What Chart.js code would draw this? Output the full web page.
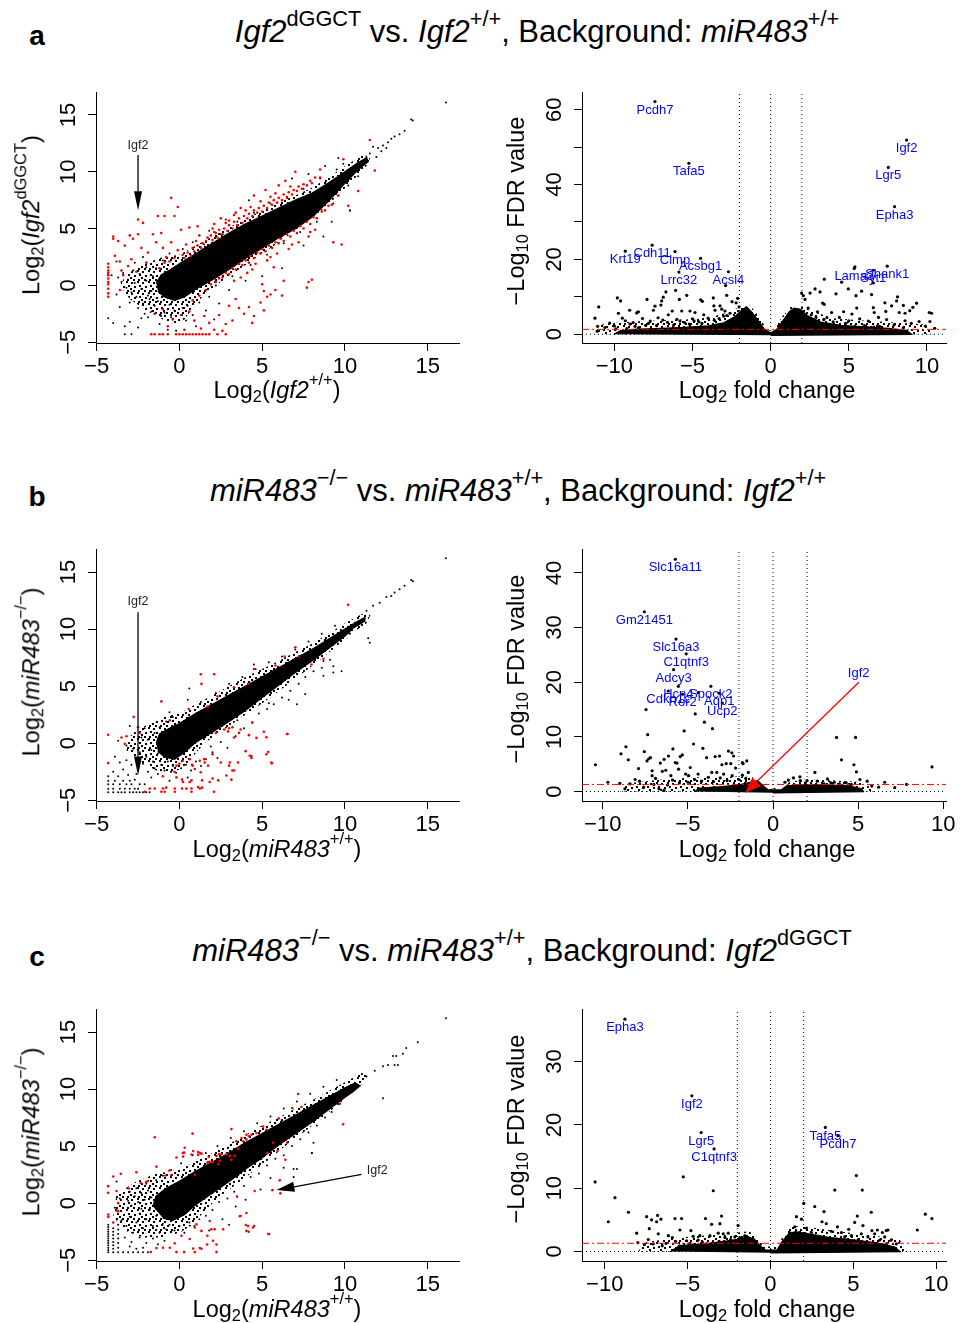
<!DOCTYPE html>
<html>
<head>
<meta charset="utf-8">
<script src="https://cdn.jsdelivr.net/npm/chart.js@4.4.1/dist/chart.umd.min.js"></script>
<style>
  body { margin: 0; background: #fff; }
  #fig { position: relative; width: 962px; height: 1323px; overflow: hidden;
         font-family: "Liberation Sans", Arial, Helvetica, sans-serif; color: #000; }
  canvas { position: absolute; }
  .t { position: absolute; white-space: nowrap; line-height: 1; transform: translateX(-50%); }
  .ttl { font-size: 31px; }
  .ax { font-size: 23.5px; }
  .rot { transform: translate(-50%, -50%) rotate(-90deg); }
  .lt { font-size: 28px; font-weight: bold; }
  .up { position: relative; top: -0.72em; font-size: 0.7em; }
  .ups { position: relative; top: -0.8em; font-size: 0.7em; }
  .dn { position: relative; top: 0.25em; font-size: 0.7em; }
</style>
</head>
<body>
<div id="fig">
  <canvas id="sa"></canvas><canvas id="va"></canvas>
  <canvas id="sb"></canvas><canvas id="vb"></canvas>
  <canvas id="sc"></canvas><canvas id="vc"></canvas>

  <div class="t lt" style="left:37px;top:22px">a</div>
  <div class="t ttl" style="left:537px;top:15.5px"><i>Igf2</i><span class="up">dGGCT</span> vs. <i>Igf2</i><span class="up">+/+</span>, Background: <i>miR483</i><span class="up">+/+</span></div>
  <div class="t lt" style="left:37px;top:483px">b</div>
  <div class="t ttl" style="left:518px;top:474.5px"><i>miR483</i><span class="up">−/−</span> vs. <i>miR483</i><span class="up">+/+</span>, Background: <i>Igf2</i><span class="up">+/+</span></div>
  <div class="t lt" style="left:37px;top:943.3px">c</div>
  <div class="t ttl" style="left:522px;top:934.5px"><i>miR483</i><span class="up">−/−</span> vs. <i>miR483</i><span class="up">+/+</span>, Background: <i>Igf2</i><span class="up">dGGCT</span></div>

  <div class="t ax" style="left:277px;top:379px">Log<span class="dn">2</span>(<i>Igf2</i><span class="ups">+/+</span>)</div>
  <div class="t ax rot" style="left:32px;top:214.5px">Log<span class="dn">2</span>(<i>Igf2</i><span class="ups">dGGCT</span>)</div>
  <div class="t ax" style="left:767px;top:379px">Log<span class="dn">2</span> fold change</div>
  <div class="t ax rot" style="left:517px;top:211px">−Log<span class="dn">10</span> FDR value</div>

  <div class="t ax" style="left:277px;top:837.7px">Log<span class="dn">2</span>(<i>miR483</i><span class="ups">+/+</span>)</div>
  <div class="t ax rot" style="left:32px;top:672px">Log<span class="dn">2</span>(<i>miR483</i><span class="ups">−/−</span>)</div>
  <div class="t ax" style="left:767px;top:837.7px">Log<span class="dn">2</span> fold change</div>
  <div class="t ax rot" style="left:517px;top:668.5px">−Log<span class="dn">10</span> FDR value</div>

  <div class="t ax" style="left:277px;top:1297.7px">Log<span class="dn">2</span>(<i>miR483</i><span class="ups">+/+</span>)</div>
  <div class="t ax rot" style="left:32px;top:1132px">Log<span class="dn">2</span>(<i>miR483</i><span class="ups">−/−</span>)</div>
  <div class="t ax" style="left:767px;top:1297.7px">Log<span class="dn">2</span> fold change</div>
  <div class="t ax rot" style="left:517px;top:1128.5px">−Log<span class="dn">10</span> FDR value</div>
</div>

<script>
"use strict";

/* ---------- tick labels ---------- */
const scTicks = [-5, 0, 5, 10, 15];
const vxTicks = [-10, -5, 0, 5, 10];
const vaYTicks = [0, 10, 20, 30, 40, 50, 60];
const vbYTicks = [0, 10, 20, 30, 40];
const vcYTicks = [0, 10, 20, 30];

/* ---------- cut-offs ---------- */
const fcCuts = [-2, 0, 2];
const fdrCut = 1.3;

/* ---------- panel a, scatter ---------- */
const aCore = [[-1.4,0.2],[-1.1,0.9],[-0.5,1.4],[0,1.9],[1,2.8],[2,3.7],[3,4.6],[4,5.4],[5,6.1],[6,6.8],[7,7.5],[8,8.1],[9,9.0],[10,10.0],[10.8,10.8],[11.3,11.2],[11.4,10.9],[10.8,10.2],[10,9.0],[9,7.4],[8,6.0],[7,5.0],[6,4.2],[5,3.3],[4,2.4],[3,1.4],[2,0.5],[1,-0.3],[0.3,-1.0],[-0.3,-1.3],[-0.9,-1.0],[-1.3,-0.5]];
const aHalo = [[-3.2,1.0],[-2.2,1.8],[-1.2,2.4],[0,2.7],[1,3.5],[2,4.3],[3,5.1],[4,5.9],[5,6.6],[6,7.3],[7,7.9],[8,8.6],[9,9.5],[10,10.5],[11,11.4],[11.6,11.4],[11.3,10.5],[10.5,9.3],[9.5,7.8],[8.5,6.5],[7.5,5.4],[6.5,4.3],[5.5,3.3],[4.5,2.3],[3.5,1.3],[2.5,0.3],[1.5,-0.8],[0.8,-2.0],[0.3,-3.0],[-0.3,-3.4],[-1.0,-3.0],[-2.0,-2.2],[-3.0,-1.2],[-3.6,0.0]];
const aBlack = [[-4.3,-2.9],[-4.0,-3.3],[-3.3,-3.6],[-3.0,-3.2],[-2.9,-4.3],[-3.3,-4.3],[-2.5,-3.7],[-2.3,-2.9],[-2.1,-2.5],[-1.9,-2.8],[-1.7,-2.3],[-1.5,-1.8],[-1.1,-2.7],[-0.9,-2.4],[-0.5,-2.8],[-0.3,-2.2],[-0.6,-1.7],[-1.3,-1.4],[-1.8,-1.2],[-2.2,-1.6],[-2.6,-1.0],[-2.9,-0.6],[-3.2,-0.2],[-3.5,0.3],[-3.1,0.5],[-2.7,0.2],[-2.3,-0.3],[-2.0,0.4],[-1.7,-0.5],[-1.6,0.8],[-2.4,1.0],[-2.8,1.3],[-3.4,1.1],[-3.7,0.7],[-2.0,1.6],[-1.4,1.5],[-1.9,-0.9],[-2.5,-2.0],[-3.0,-1.5],[-3.6,-1.9],[-3.8,-0.8],[-4.1,0.9],[-3.8,2.1],[-1.2,-3.4],[-0.7,-3.9],[0.2,-2.0],[0.5,-1.8],[0.8,-2.6],[1.2,-1.5],[1.6,-2.2],[0.4,-3.1],[1.0,-3.6],[-0.2,-4.0],[2.1,-3.0],[2.4,-1.6],[1.8,-1.0],[-2.7,2.0],[-2.2,2.5],[-1.0,2.2],[-0.6,2.8],[0.2,3.2],[1.5,3.6],[2.5,4.5],[3.5,5.6],[4.5,6.4],[5.5,7.2],[6.5,7.8],[7.5,8.5],[8.5,9.4],[9.5,10.2],[2.2,0.0],[3.2,0.8],[4.3,1.8],[5.3,2.7],[6.3,3.7],[7.3,4.7],[8.3,5.6],[9.3,7.2],[10.2,8.8],[10.8,9.6],[9.9,10.7],[5.0,0.8],[6.2,1.5],[3.0,-0.4],[4.0,0.4],[7.5,3.5],[8.7,4.3],[9.2,5.6],[10.3,6.6],[6.8,9.4],[7.8,9.8],[4.2,7.5],[2.8,5.8],[1.8,4.8],[0.8,3.8],[8.8,10.5],[9.6,11.2],[11.3,11.3],[11.5,11.6],[12.0,12.1],[12.3,12.3],[12.6,12.6],[12.8,12.9],[13.0,13.1],[13.3,13.3],[13.6,13.6],[14.1,14.5],[14.0,14.6],[11.9,11.3],[12.2,11.8],[11.3,11.1],[10.9,10.6],[10.7,10.3],[11.7,12.2],[12.5,12.1],[16.1,16.1],[10.3,6.6]];
const aRed = [[-4.3,1.9],[-4.3,1.6],[-4.3,1.3],[-4.3,1.1],[-4.3,0.9],[-4.3,0.6],[-4.3,0.3],[-4.3,0.1],[-4.3,-0.3],[-4.3,-0.7],[-4.3,-1.0],[-4.0,4.3],[-4.0,4.1],[-3.9,2.6],[-3.7,3.9],[-3.6,2.1],[-3.5,1.3],[-3.4,0.9],[-3.6,-0.4],[-3.0,4.4],[-2.8,4.1],[-2.5,4.5],[-2.5,5.8],[-2.2,5.5],[-1.3,6.1],[-0.9,6.1],[-0.3,6.1],[-0.1,6.9],[-0.5,7.7],[-1.6,4.5],[-1.1,4.6],[-0.5,3.8],[0.1,4.9],[0.6,5.1],[1.1,5.2],[2.1,5.4],[2.5,5.9],[3.3,6.2],[-3.3,3.5],[-2.3,3.3],[-1.9,2.9],[-1.4,3.8],[-1.0,3.3],[-0.8,2.5],[-2.9,2.3],[-3.1,1.7],[-2.6,1.2],[-2.0,2.0],[-0.1,3.1],[0.4,3.6],[0.3,2.4],[0.7,2.6],[0.9,3.0],[1.3,3.3],[1.6,3.9],[2.0,4.0],[2.3,4.2],[2.6,4.5],[2.9,4.8],[3.2,5.0],[3.5,5.3],[3.8,5.5],[4.1,5.9],[4.4,6.1],[4.7,6.4],[5.0,6.5],[5.3,6.8],[5.6,7.1],[5.9,7.3],[6.2,7.5],[6.5,7.7],[6.8,8.0],[7.1,8.3],[7.4,8.5],[7.7,8.8],[8.0,9.0],[8.5,9.5],[4.0,6.6],[4.9,7.4],[5.8,8.1],[6.4,9.2],[7.0,10.0],[8.5,10.2],[9.9,11.1],[11.5,12.8],[3.0,5.7],[3.7,6.8],[2.0,5.0],[1.2,4.4],[5.2,8.4],[6.0,8.8],[4.5,7.9],[0.5,2.9],[0.8,3.3],[1.1,3.5],[1.4,3.7],[1.7,4.2],[1.9,4.4],[2.2,4.6],[2.4,4.9],[2.7,5.0],[3.0,5.3],[3.3,5.6],[3.6,5.9],[3.9,6.1],[4.2,6.3],[4.5,6.6],[4.8,6.8],[5.1,7.0],[5.4,7.3],[5.7,7.5],[6.0,7.7],[6.3,8.0],[6.6,8.2],[6.9,8.4],[7.2,8.7],[7.5,8.9],[7.9,9.2],[8.2,9.5],[1.0,3.9],[2.8,5.5],[4.3,6.9],[5.5,7.8],[6.7,8.7],[3.4,6.4],[2.1,4.7],[0.2,2.7],[-0.3,2.4],[-0.6,2.1],[-0.9,2.0],[-1.2,1.5],[2.4,0.6],[2.8,1.1],[3.2,1.5],[3.6,1.9],[4.0,2.2],[4.3,2.6],[4.7,2.9],[5.0,3.2],[5.4,3.5],[5.8,3.8],[6.1,4.1],[6.5,4.5],[6.9,4.8],[7.3,5.2],[7.7,5.6],[8.1,6.0],[8.6,6.5],[9.0,7.0],[9.6,7.9],[10.2,7.0],[10.8,8.3],[11.8,10.1],[4.1,1.1],[4.6,1.9],[5.3,2.2],[5.9,2.8],[6.6,3.2],[7.2,3.8],[7.8,4.3],[8.2,4.9],[3.7,0.7],[5.7,1.6],[2.2,0.3],[2.6,0.7],[3.0,1.0],[3.4,1.4],[3.8,1.8],[4.2,2.0],[4.5,2.4],[4.9,2.8],[5.2,3.0],[5.6,3.3],[6.0,3.7],[6.3,3.9],[6.7,4.3],[7.1,4.6],[7.5,5.0],[7.9,5.4],[8.3,5.9],[8.8,6.6],[9.2,7.1],[3.3,0.4],[4.4,1.4],[5.5,2.5],[6.8,3.6],[7.9,4.7],[1.6,-0.4],[1.9,0.1],[1.2,-0.9],[0.8,-1.3],[5.0,0.1],[5.1,-0.5],[5.3,-1.0],[5.5,-0.8],[5.8,-0.4],[6.3,0.4],[6.2,-0.9],[7.8,0.3],[8.0,0.5],[7.7,-0.2],[9.3,3.8],[9.8,3.6],[5.1,-2.2],[4.9,-1.5],[4.5,-2.7],[4.2,-1.9],[3.4,-1.2],[3.6,-2.0],[3.2,-3.1],[2.4,-2.6],[2.8,-3.4],[1.8,-3.3],[1.5,-2.7],[2.1,-3.9],[0.9,-3.1],[0.6,-2.3],[0.1,-2.6],[-0.4,-3.0],[-1.0,-2.1],[-1.5,-2.5],[-0.7,-3.6],[0.3,-3.9],[1.3,-3.8],[2.6,-4.0],[3.0,-1.8],[3.9,-2.5],[4.4,-3.3],[-1.7,-4.3],[-1.5,-4.3],[-1.2,-4.3],[-1.0,-4.3],[-0.7,-4.3],[-0.2,-4.3],[0.0,-4.3],[0.2,-4.3],[0.4,-4.3],[0.6,-4.3],[0.8,-4.3],[1.0,-4.3],[1.2,-4.3],[1.4,-4.3],[1.6,-4.3],[1.8,-4.3],[2.3,-4.3],[2.8,-4.3]];

/* ---------- panel b, scatter ---------- */
const bCore = [[-1.4,0.0],[-1.2,0.8],[-0.6,1.3],[0,1.7],[1,2.6],[2,3.4],[3,4.2],[4,5.0],[5,5.8],[6,6.6],[7,7.4],[8,8.2],[9,9.1],[10,10.0],[10.8,10.7],[11.2,11.0],[11.2,10.7],[10.5,10.1],[10,9.4],[9,8.3],[8,7.2],[7,6.2],[6,5.1],[5,4.0],[4,2.9],[3,1.9],[2,1.0],[1,0.1],[0.3,-0.8],[-0.3,-1.4],[-0.9,-1.2],[-1.3,-0.7]];
const bHalo = [[-3.0,0.6],[-2.0,1.6],[-1.0,2.3],[0,2.6],[1,3.4],[2,4.2],[3,5.0],[4,5.8],[5,6.5],[6,7.2],[7,8.0],[8,8.7],[9,9.6],[10,10.5],[11,11.3],[11.6,11.4],[11.3,10.5],[10.5,9.7],[9.5,8.5],[8.5,7.3],[7.5,6.2],[6.5,5.1],[5.5,4.0],[4.5,3.0],[3.5,2.0],[2.5,1.0],[1.5,0.0],[0.8,-1.2],[0.2,-2.2],[-0.5,-2.6],[-1.4,-2.4],[-2.4,-1.6],[-3.2,-0.6]];
const bBlack = [[-4.3,-4.3],[-4.0,-4.3],[-3.7,-4.3],[-3.5,-4.3],[-3.3,-4.3],[-3.0,-4.3],[-2.8,-4.3],[-2.6,-4.3],[-2.4,-4.3],[-2.2,-4.3],[-2.0,-4.3],[-1.8,-4.3],[-4.3,-4.0],[-4.0,-4.0],[-3.6,-4.0],[-3.3,-4.0],[-3.0,-4.0],[-2.7,-4.0],[-2.5,-4.0],[-4.3,-3.6],[-4.0,-3.6],[-3.6,-3.6],[-3.2,-3.6],[-2.9,-3.6],[-2.4,-3.6],[-2.1,-3.6],[-4.3,-3.3],[-3.9,-3.3],[-3.4,-3.3],[-3.0,-3.3],[-2.7,-3.2],[-4.3,-2.9],[-3.7,-2.9],[-3.1,-2.8],[-2.6,-2.7],[-4.0,-2.5],[-3.4,-2.3],[-3.6,-1.7],[-3.2,-1.5],[-2.9,-1.9],[-2.5,-2.2],[-2.2,-1.8],[-1.9,-2.5],[-1.7,-3.0],[-1.5,-2.2],[-1.3,-2.7],[-1.1,-1.9],[-0.9,-2.4],[-0.7,-1.6],[-0.4,-2.0],[-0.2,-2.6],[0.1,-2.2],[0.4,-1.9],[0.7,-2.4],[1.0,-1.6],[1.3,-2.0],[1.6,-1.4],[-2.0,-1.2],[-2.4,-0.8],[-2.8,-0.5],[-3.2,-0.2],[-3.7,0.2],[-1.7,-0.6],[-1.9,0.3],[-2.3,0.5],[-2.7,0.9],[-1.5,0.9],[-2.1,1.3],[-1.2,1.4],[-0.8,1.9],[-0.4,2.3],[-3.0,1.5],[-2.6,-1.3],[-1.3,-0.9],[-1.6,-1.6],[-3.9,-1.2],[-0.6,-3.3],[0.5,-3.0],[2.0,-0.8],[2.5,0.1],[2.9,-0.4],[3.4,0.6],[3.9,1.3],[4.4,1.8],[4.8,2.6],[5.3,3.0],[5.7,3.4],[6.2,4.0],[6.7,4.6],[7.2,5.2],[7.6,5.8],[8.1,6.3],[8.6,6.6],[9.1,7.3],[0.5,3.8],[1.3,3.6],[2.2,4.4],[3.0,5.2],[3.8,5.8],[4.6,6.5],[5.4,7.1],[6.2,7.6],[7.0,8.2],[7.8,8.9],[8.6,9.6],[9.4,10.3],[0.6,4.8],[-0.6,2.7],[5.4,3.5],[6.6,3.8],[7.1,3.4],[8.7,5.9],[7.6,4.3],[4.5,6.9],[1.8,2.2],[3.5,2.0],[1.9,-0.3],[2.3,-1.3],[0.6,0.3],[11.3,11.6],[11.7,12.05],[12.1,12.3],[12.5,12.8],[12.8,12.9],[13.0,13.2],[13.3,13.5],[13.6,13.8],[14.1,14.2],[14.0,14.3],[16.1,16.2],[11.5,8.8],[11.4,9.2],[10.3,9.6],[9.8,6.3],[9.3,6.75],[9.3,6.2],[8.7,7.2]];
const bRed = [[-4.31,0.74],[-4.31,-1.75],[-3.5,0.5],[-3.3,-0.06],[-3.2,0.6],[-2.76,2.3],[-2.4,0.9],[-2.5,1.4],[-1.09,3.66],[-0.58,2.0],[0.56,3.0],[1.33,5.2],[1.29,6.04],[2.1,6.04],[4.15,5.2],[4.5,6.5],[5.8,6.8],[6.36,7.6],[7.0,8.4],[7.2,7.6],[7.98,6.9],[8.7,7.4],[10.19,12.13],[1.7,3.2],[2.3,4.1],[3.3,4.9],[2.7,1.2],[2.2,0.9],[3.0,1.3],[3.3,0.5],[3.6,0.9],[4.4,1.8],[4.65,0.46],[5.1,1.0],[5.26,-0.97],[6.5,0.8],[5.58,-1.77],[4.25,-1.1],[4.35,-1.3],[3.04,-1.69],[3.3,-2.4],[2.5,-1.69],[2.0,-0.97],[1.5,-1.4],[0.8,-1.97],[2.94,1.03],[3.2,1.4],[3.7,1.2],[4.2,0.7],[5.26,0.52],[5.36,-0.77],[4.35,-1.12],[4.0,-0.7],[3.54,-1.69],[3.2,-2.4],[3.0,-1.97],[5.56,-1.69],[6.53,0.8],[-0.18,-1.97],[0.0,-1.8],[0.2,-1.55],[0.62,-1.4],[0.76,-1.9],[0.93,-2.26],[1.23,-1.55],[1.29,-2.55],[1.53,-1.69],[1.73,-1.97],[-0.18,-3.0],[0.16,-3.2],[0.22,-3.4],[0.62,-3.4],[0.73,-3.26],[1.13,-3.85],[1.37,-3.26],[1.83,-3.4],[2.0,-3.1],[2.34,-3.26],[2.84,-2.83],[3.14,-3.2],[-1.79,-3.98],[-1.49,-3.98],[-0.99,-3.98],[-0.8,-3.9],[-0.28,-3.98],[0.16,-3.98],[0.42,-3.98],[0.73,-3.98],[1.23,-3.98],[1.37,-3.9],[-2.09,-4.26],[-1.09,-4.26],[-0.89,-4.26],[-0.28,-4.26],[0.73,-4.26],[2.09,-4.26],[-0.3,-2.5],[-1.0,-2.9]];

/* ---------- panel c, scatter ---------- */
const cCore = [[-1.6,-0.3],[-1.4,0.6],[-0.8,1.3],[0,1.9],[1,2.8],[2,3.6],[3,4.4],[4,5.3],[5,6.1],[6,6.9],[7,7.7],[8,8.5],[9,9.3],[10,10.1],[10.6,10.5],[10.9,10.3],[10.5,9.8],[10,9.3],[9,8.2],[8,7.1],[7,6.1],[6,5.1],[5,4.0],[4,3.0],[3,1.9],[2,0.9],[1,-0.1],[0.3,-1.0],[-0.4,-1.5],[-1.0,-1.3]];
const cHalo = [[-3.8,0.8],[-2.6,1.9],[-1.4,2.6],[0,2.9],[1,3.7],[2,4.4],[3,5.2],[4,6.0],[5,6.8],[6,7.5],[7,8.3],[8,9.0],[9,9.8],[10,10.6],[11,11.4],[11.4,11.2],[11.0,10.4],[10.3,9.5],[9.3,8.3],[8.3,7.1],[7.3,6.0],[6.3,4.9],[5.3,3.7],[4.3,2.6],[3.3,1.5],[2.3,0.4],[1.5,-0.7],[0.8,-1.9],[0.0,-2.6],[-1.0,-3.0],[-2.2,-3.0],[-3.3,-2.4],[-4.0,-1.2]];
const cBlack = [[-4.3,-4.3],[-4.3,-4.1],[-4.3,-3.9],[-4.3,-3.7],[-4.3,-3.5],[-4.3,-3.3],[-4.3,-3.1],[-4.3,-2.9],[-4.3,-2.7],[-4.3,-2.5],[-4.3,-2.3],[-4.3,-2.1],[-4.3,-1.9],[-4.0,-4.3],[-4.0,-4.0],[-4.0,-3.7],[-4.0,-3.4],[-4.0,-3.1],[-4.0,-2.8],[-4.0,-2.5],[-4.0,-2.2],[-3.7,-4.3],[-3.7,-3.9],[-3.7,-3.5],[-3.7,-3.1],[-3.7,-2.7],[-3.7,-2.3],[-3.7,-1.9],[-3.4,-4.3],[-3.1,-4.3],[-2.8,-4.3],[-2.5,-4.3],[-2.2,-4.3],[-1.9,-4.3],[-3.5,-1.5],[-3.2,-2.0],[-3.0,-1.2],[-2.8,-2.6],[-2.6,-1.7],[-2.4,-0.9],[-2.2,-2.2],[-2.0,-1.4],[-1.8,-0.6],[-1.6,-2.0],[-1.4,-1.1],[-1.2,-2.6],[-1.0,-1.8],[-0.8,-2.3],[-0.6,-1.9],[-0.3,-2.4],[0.0,-2.0],[0.3,-2.6],[0.6,-1.7],[0.9,-2.0],[1.2,-1.4],[1.6,-1.1],[2.0,-0.6],[-3.4,-0.4],[-3.1,0.2],[-2.9,-0.2],[-2.7,0.6],[-2.5,0.1],[-2.3,0.9],[-2.1,0.3],[-1.9,1.1],[-1.7,0.5],[-2.0,1.7],[-2.6,1.3],[-3.0,1.0],[-3.6,0.4],[-3.9,-0.4],[-3.3,-3.0],[-2.9,-3.4],[-2.4,-3.0],[-2.0,-3.5],[-1.6,-3.1],[-1.3,-3.6],[-0.9,-3.3],[-2.6,-4.0],[-2.2,-3.9],[-3.0,-3.8],[-1.4,2.0],[-1.0,2.4],[-0.5,2.9],[0.1,3.5],[-3.8,1.9],[-1.1,-0.4],[-2.3,-0.5],[2.4,0.1],[2.9,0.4],[3.3,1.0],[3.9,1.5],[4.3,2.3],[4.8,2.6],[5.3,3.3],[5.8,3.9],[6.3,4.2],[6.8,5.0],[7.3,5.6],[7.8,6.2],[8.3,6.8],[8.8,7.5],[9.2,8.0],[0.8,4.2],[1.6,4.4],[2.3,5.0],[3.1,5.7],[3.9,6.3],[4.7,7.0],[5.5,7.6],[6.3,8.3],[7.1,8.9],[7.9,9.6],[8.7,10.2],[9.5,10.8],[2.6,-1.4],[3.4,-0.3],[4.0,0.3],[4.9,1.2],[5.5,2.2],[6.3,3.1],[7.1,3.0],[8.0,4.4],[6.9,2.3],[8.1,5.3],[3.0,-1.9],[1.8,-2.4],[3.7,-1.1],[11.3,11.1],[11.8,11.6],[12.3,12.0],[12.6,12.1],[12.9,12.9],[13.1,12.9],[13.2,12.1],[13.0,12.1],[13.5,13.1],[13.7,13.6],[14.4,14.1],[16.1,16.2],[12.3,9.2],[10.7,10.4],[9.6,8.7],[8.0,4.4],[6.9,3.0]];
const cRed = [[-1.49,5.77],[0.79,6.09],[0.32,4.86],[0.2,4.4],[1.13,4.49],[1.25,4.4],[2.24,4.14],[2.4,4.3],[3.14,6.49],[2.34,3.43],[2.0,3.6],[1.7,3.55],[3.44,5.43],[4.05,6.0],[4.65,6.14],[5.26,6.43],[5.06,6.71],[6.0,7.43],[6.81,8.34],[7.17,9.57],[7.37,8.43],[9.69,8.71],[9.89,6.91],[6.5,5.29],[6.4,3.8],[5.66,5.29],[5.92,4.57],[5.3,4.4],[5.62,1.14],[6.1,0.86],[6.06,2.0],[4.55,1.06],[3.48,0.57],[4.05,-0.86],[4.01,-1.91],[4.51,-2.0],[4.19,-2.51],[5.42,-2.71],[-4.31,1.49],[-4.31,0.91],[-4.0,2.34],[-3.8,1.06],[-3.54,2.57],[-3.06,1.29],[-2.6,2.71],[-2.33,1.77],[-2.0,1.86],[-1.9,1.94],[-1.39,3.2],[-0.85,2.43],[-0.6,2.86],[-0.5,2.43],[-0.18,4.0],[0.22,4.09],[0.28,4.43],[0.73,4.26],[0.83,4.57],[1.13,4.23],[1.33,4.34],[1.77,4.06],[1.83,3.63],[2.43,3.71],[2.53,4.29],[2.84,4.29],[3.04,4.14],[3.14,3.8],[3.34,4.14],[3.55,4.77],[3.85,5.43],[4.05,5.57],[4.2,5.86],[4.35,6.0],[3.75,5.71],[0.93,2.49],[-3.7,0.0],[-3.8,-0.66],[-4.3,-1.0],[-4.3,-1.2],[-3.7,-0.7],[-4.0,-1.7],[0.93,-2.14],[1.03,-1.86],[1.33,-2.43],[1.83,-1.57],[1.93,-2.29],[2.13,-2.29],[2.64,-2.29],[1.69,-2.86],[2.03,-3.29],[2.24,-3.63],[0.62,-3.14],[0.12,-2.86],[-0.28,-3.51],[-0.58,-3.91],[-0.99,-3.91],[-1.39,-3.94],[-1.73,-4.29],[-0.18,-4.29],[0.28,-4.29],[0.83,-3.97],[0.93,-4.29],[1.23,-3.94],[1.33,-4.0],[1.67,-3.63],[2.24,-4.29],[4.15,-2.0],[4.45,-2.14],[4.05,-2.43],[5.36,-2.71],[3.65,-1.14]];

/* ---------- panel a, volcano ---------- */
const vaCore = [[-10,0],[-9.6,0.9],[-8.5,1.3],[-7,1.5],[-5.5,1.8],[-4,2.2],[-3,3.0],[-2.3,4.6],[-1.8,6.6],[-1.55,7.3],[-1.2,5.8],[-0.8,3.6],[-0.4,1.3],[0,0.3],[0.4,1.3],[0.8,3.6],[1.2,6.0],[1.5,6.9],[1.9,6.6],[2.4,4.8],[3.2,3.2],[4.5,2.3],[6,1.9],[7.5,1.5],[8.7,1.0],[9,0],[0,-0.3]];
const vaHalo = [[-11.2,0],[-11,2.5],[-9.5,3.2],[-8,3.5],[-6.5,3.8],[-5,4.0],[-3.8,4.6],[-2.6,6.0],[-1.8,7.8],[-1.3,7.6],[-0.7,4.5],[-0.2,1.0],[0.2,1.0],[0.7,4.5],[1.3,7.4],[2.0,7.6],[2.8,6.0],[4,4.3],[5.5,3.8],[7,3.4],[8.5,3.0],[10,2.6],[10.5,0]];
const vaPts = [[-11.24,4.3],[-11.0,7.3],[-11.07,2.1],[-9.81,9.7],[-9.6,8.9],[-9.74,5.6],[-9.49,4.3],[-9.3,3.6],[-9.02,6.4],[-8.57,5.7],[-8.46,6.0],[-9.0,2.7],[-8.68,2.1],[-8.46,1.7],[-7.82,2.9],[-7.91,9.3],[-7.5,6.4],[-7.4,7.5],[-6.97,8.9],[-6.87,9.9],[-6.7,11.3],[-7.02,7.8],[-6.55,5.2],[-6.3,6.2],[-6.08,11.7],[-5.84,9.3],[-5.69,6.2],[-5.37,10.4],[-5.16,6.2],[-4.84,5.8],[-4.48,9.2],[-4.37,8.8],[-4.28,5.2],[-3.67,9.7],[-3.63,7.6],[-3.56,6.4],[-3.24,7.6],[-3.13,6.7],[-2.92,6.2],[-2.81,10.4],[-2.88,13.0],[-2.47,8.7],[-2.21,8.4],[-2.11,9.6],[-2.02,7.3],[-1.75,5.6],[-10.3,3.0],[-10.6,1.8],[-8.2,4.2],[-7.7,3.5],[-7.2,4.4],[-6.6,3.2],[-6.0,4.0],[-5.5,3.1],[-5.0,4.1],[-4.6,3.3],[-4.0,4.3],[-3.6,3.7],[-3.0,4.8],[-2.6,5.6],[-10.0,2.2],[-9.2,1.5],[-8.0,2.4],[-7.3,2.3],[-6.2,2.5],[-5.2,2.7],[-4.4,2.9],[-3.3,4.2],[-2.8,5.0],[-6.9,3.8],[-5.8,3.5],[-4.9,3.6],[-8.8,3.1],[-9.9,1.4],[-11.1,0.8],[1.98,11.0],[2.09,10.3],[2.2,9.3],[2.52,11.0],[2.84,12.1],[3.16,11.3],[3.33,8.3],[3.43,8.0],[3.43,14.7],[3.9,5.8],[4.18,10.8],[4.54,13.9],[4.97,12.1],[4.67,6.0],[5.2,5.4],[5.39,18.0],[5.46,10.3],[5.51,7.0],[5.82,11.5],[6.25,3.5],[6.46,10.6],[6.57,13.7],[6.57,7.1],[6.63,5.8],[6.9,4.5],[6.97,2.1],[7.31,8.4],[7.37,6.1],[7.42,3.9],[7.74,7.6],[8.06,8.9],[8.12,10.0],[8.23,5.8],[8.49,7.7],[8.6,5.6],[8.9,6.3],[9.1,7.2],[9.34,8.3],[9.5,3.4],[10.15,5.8],[10.3,5.6],[10.19,3.4],[6.0,2.3],[6.2,1.7],[6.6,1.9],[8.49,1.7],[8.6,3.6],[2.6,5.2],[3.0,6.0],[2.4,7.0],[3.6,4.4],[4.0,3.3],[4.4,4.5],[5.0,3.6],[5.7,4.1],[7.9,2.5],[9.0,2.9],[9.9,2.2],[10.5,1.6],[4.8,2.9],[3.4,3.9],[2.9,4.5]];
const vaGenes = ["Pcdh7","Tafa5","Igf2","Lgr5","Epha3","Cdh11","Krt19","Clmp","Acsbg1","Lrrc32","Acsl4","Lama3","Syt1","Shank1"];
const vaGeneX = [-7.4,-5.23,8.7,7.53,7.93,-7.58,-9.3,-6.12,-4.48,-5.87,-2.7,5.35,6.57,7.46];
const vaGeneY = [62.2,45.7,51.9,44.6,34.1,23.8,22.2,22.1,20.3,16.6,16.7,17.6,17.1,18.2];

/* ---------- panel b, volcano ---------- */
const vbCore = [[-4.6,0],[-4.3,0.6],[-3,0.9],[-2,1.2],[-1.3,1.7],[-0.9,1.9],[-0.5,0.8],[-0.3,0.3],[0.5,0.3],[0.8,1.0],[1.5,1.2],[3,1.2],[4.5,1.0],[5.2,0.5],[5.3,0],[0,-0.2]];
const vbHalo = [[-9,0],[-8.5,1.5],[-6.5,2.2],[-4.5,2.6],[-3,2.6],[-2,2.8],[-1.2,2.6],[-0.6,1.2],[-0.3,0.6],[0.5,0.6],[1,1.8],[2,2.2],[3.5,2.0],[5,1.8],[5.6,1.0],[6,0]];
const vbPts = [[-10.43,4.9],[-8.93,6.9],[-8.64,8.2],[-8.5,5.8],[-7.9,4.2],[-7.84,1.9],[-7.56,7.3],[-7.46,15.0],[-7.4,5.6],[-7.36,10.4],[-7.3,6.0],[-7.2,6.2],[-7.1,3.8],[-7.1,2.9],[-6.62,5.2],[-6.5,3.7],[-6.4,5.9],[-6.3,3.9],[-6.14,6.5],[-5.88,7.8],[-5.74,5.3],[-5.64,5.2],[-5.55,4.1],[-5.45,6.4],[-5.33,6.7],[-5.22,11.1],[-5.13,3.2],[-4.96,2.9],[-4.86,4.4],[-4.67,8.7],[-4.57,14.2],[-4.39,18.1],[-4.12,7.9],[-4.03,12.7],[-3.9,6.2],[-3.56,11.5],[-3.4,6.4],[-3.3,3.5],[-3.14,6.5],[-3.0,4.9],[-2.9,3.2],[-2.75,5.1],[-2.62,7.4],[-2.48,5.1],[-2.42,7.1],[-2.32,6.5],[-2.2,4.3],[-1.8,5.3],[-1.76,5.1],[-1.54,5.6],[-1.45,3.5],[-9.7,1.7],[-9.0,1.5],[-8.4,1.4],[-8.1,2.2],[-7.6,0.8],[-7.0,1.3],[-6.7,0.5],[-6.2,1.2],[-5.9,2.1],[-5.5,1.6],[-5.0,1.7],[-4.6,2.2],[-4.2,1.9],[-3.8,2.6],[-3.5,1.8],[-3.1,2.5],[-2.7,2.0],[-2.4,2.9],[-2.0,2.2],[-1.8,3.0],[-1.6,2.4],[-6.9,2.4],[-6.0,2.9],[-4.4,3.2],[-3.6,3.5],[-8.7,0.5],[-6.4,0.2],[1.58,2.7],[2.46,3.5],[3.2,2.3],[3.6,1.7],[3.73,9.9],[4.02,5.8],[4.75,4.9],[4.85,9.9],[4.9,3.6],[5.1,2.2],[5.53,1.9],[6.56,1.7],[7.15,0.7],[7.84,1.3],[9.34,4.5],[0.7,1.7],[0.9,2.1],[1.2,2.5],[1.9,1.6],[2.0,2.0],[2.6,1.9],[3.0,1.4],[3.4,1.6],[3.9,1.4],[4.3,1.6],[4.6,1.3],[5.8,1.0],[6.2,0.8],[4.2,0.9],[2.9,0.7],[1.6,2.0]];
const vbGenes = ["Slc16a11","Gm21451","Slc16a3","C1qtnf3","Adcy3","Cdkn1c","Hcn4","Spock2","Ror2","Aqp1","Ucp2"];
const vbGeneX = [-5.74,-7.56,-5.7,-5.1,-5.84,-6.15,-5.56,-3.65,-5.31,-3.16,-2.98];
const vbGeneY = [42.5,32.9,27.9,25.2,22.3,18.4,19.25,19.25,17.8,18.0,16.2];

/* ---------- panel c, volcano ---------- */
const vcCore = [[-6,0],[-5.5,0.9],[-4,1.2],[-3,1.5],[-2,1.9],[-1.4,2.3],[-1.0,2.0],[-0.5,0.6],[-0.3,0.2],[0.4,0.2],[0.7,1.5],[1.1,2.8],[1.5,3.1],[2.5,2.7],[3.5,2.2],[5,1.8],[6.5,1.3],[7.5,0.7],[7.8,0],[0,-0.2]];
const vcHalo = [[-8,0],[-7.5,1.5],[-5.5,2.2],[-3.5,2.6],[-2,3.0],[-1.3,3.2],[-0.8,2.2],[-0.4,0.8],[0.4,0.8],[0.8,2.6],[1.2,4.0],[2,4.0],[3.5,3.4],[5,2.9],[6.5,2.4],[7.8,1.8],[8.3,0]];
const vcPts = [[-10.58,11.0],[-9.78,4.7],[-9.38,8.5],[-8.57,6.2],[-8.07,2.9],[-7.47,5.5],[-7.37,1.9],[-7.31,3.6],[-7.17,5.0],[-7.07,1.2],[-6.87,4.7],[-6.81,5.7],[-6.77,2.8],[-6.61,5.1],[-6.53,0.9],[-6.16,2.5],[-5.92,2.2],[-5.76,5.2],[-5.72,1.6],[-5.46,3.4],[-5.36,5.2],[-5.26,11.8],[-5.06,1.7],[-4.8,3.3],[-4.66,2.4],[-4.36,1.8],[-4.26,2.5],[-3.92,5.2],[-3.86,1.2],[-3.65,2.5],[-3.55,4.3],[-3.45,9.6],[-3.35,1.2],[-3.15,2.9],[-3.05,4.4],[-2.95,5.6],[-2.85,2.8],[-2.75,2.2],[-2.55,2.9],[-2.15,2.3],[-1.95,4.1],[-1.85,2.2],[-1.55,2.5],[-1.35,2.2],[-8.0,1.4],[-7.6,1.1],[-6.3,1.3],[-5.5,0.9],[-4.9,1.2],[-4.1,1.5],[-3.1,1.6],[-2.4,1.9],[1.57,5.5],[1.87,5.1],[2.01,7.6],[1.47,3.9],[2.17,3.7],[2.47,3.0],[2.67,7.1],[2.87,2.4],[3.11,4.7],[3.23,6.3],[3.37,4.4],[3.67,3.2],[3.88,9.7],[4.04,3.9],[4.28,3.0],[4.48,2.3],[4.72,3.5],[4.88,2.5],[5.04,1.7],[5.08,4.6],[5.18,12.0],[5.24,5.6],[5.48,2.8],[5.54,9.7],[5.58,4.1],[5.68,1.2],[5.88,2.3],[6.08,6.2],[6.12,3.3],[6.29,2.8],[6.45,3.4],[6.59,1.8],[6.75,3.0],[6.89,2.3],[6.99,3.3],[7.09,3.4],[7.29,1.8],[7.59,1.2],[8.86,3.4],[9.34,5.9],[9.74,5.2],[1.2,2.9],[2.0,2.6],[3.4,2.0],[3.9,1.8],[4.6,1.5],[5.3,1.9],[6.0,1.0],[6.8,0.9],[7.0,1.2]];
const vcGenes = ["Epha3","Igf2","Lgr5","C1qtnf3","Tafa5","Pcdh7"];
const vcGeneX = [-8.78,-4.74,-4.18,-3.4,3.31,4.07];
const vcGeneY = [36.7,24.6,18.8,16.2,19.6,18.3];

/* ---------- drawing ---------- */
const FONT = '"Liberation Sans", Arial, Helvetica, sans-serif';
const YW = 70, XH = 36;
const M = { l: 80, r: 26, t: 14, b: 44 };

function tickText(v) { return v < 0 ? "\u2212" + Math.abs(v) : String(v); }
function pts(list) { return list.map(p => ({ x: p[0], y: p[1] })); }

// dotted texture for the sparse fringe of the point clouds
function speckle(spots, size, dot) {
  const tile = document.createElement("canvas");
  tile.width = tile.height = size;
  const g = tile.getContext("2d");
  g.fillStyle = "#000";
  spots.forEach(s => g.fillRect(s[0], s[1], dot, dot));
  return g.createPattern(tile, "repeat");
}
const FRINGE = speckle([[0, 0], [5, 1], [2, 4], [8, 5], [4, 7], [1, 9], [7, 9]], 11, 2);

function axis(min, max, ticks, vertical, every) {
  return {
    type: "linear", min, max,
    afterBuildTicks: s => { s.ticks = ticks.map(v => ({ value: v })); },
    afterFit: s => { if (vertical) s.width = YW; else s.height = XH; },
    grid: { drawOnChartArea: false, drawTicks: true, tickLength: 8, color: "#000", lineWidth: 1 },
    border: { display: true, color: "#000", width: 1 },
    ticks: {
      color: "#000", font: { family: FONT, size: 22 }, autoSkip: false,
      padding: vertical ? 7 : 3,
      minRotation: vertical ? 90 : 0, maxRotation: vertical ? 90 : 0,
      crossAlign: vertical ? "center" : "near",
      callback: v => (every && v % every !== 0) ? "" : tickText(v)
    }
  };
}

function dots(list, color, r, order) {
  return { type: "scatter", data: pts(list), pointRadius: r, pointHoverRadius: r,
           pointBackgroundColor: color, pointBorderWidth: 0, order };
}
function shape(list, fillCol, order, bw) {
  return { type: "line", data: pts(list), fill: "shape", backgroundColor: fillCol,
           borderColor: "#000", borderWidth: bw, pointRadius: 0, tension: 0, order };
}
function rule(list, color, dash) {
  return { type: "line", data: pts(list), borderColor: color, borderWidth: 1,
           borderDash: dash, pointRadius: 0, fill: false, order: 0 };
}

function drawArrow(ctx, x1, y1, x2, y2, a) {
  const ang = Math.atan2(y2 - y1, x2 - x1);
  const bx = x2 - a.head * Math.cos(ang), by = y2 - a.head * Math.sin(ang);
  ctx.strokeStyle = a.color; ctx.fillStyle = a.color; ctx.lineWidth = a.lw;
  ctx.beginPath(); ctx.moveTo(x1, y1); ctx.lineTo(bx, by); ctx.stroke();
  ctx.beginPath(); ctx.moveTo(x2, y2);
  ctx.lineTo(bx + a.hw * Math.sin(ang), by - a.hw * Math.cos(ang));
  ctx.lineTo(bx - a.hw * Math.sin(ang), by + a.hw * Math.cos(ang));
  ctx.closePath(); ctx.fill();
}

const notesPlugin = {
  id: "notes",
  afterDatasetsDraw(chart, args, opts) {
    const { ctx, scales: { x, y } } = chart;
    ctx.save();
    (opts.arrows || []).forEach(a => drawArrow(ctx,
      x.getPixelForValue(a.from[0]), y.getPixelForValue(a.from[1]),
      x.getPixelForValue(a.to[0]), y.getPixelForValue(a.to[1]), a));
    (opts.labels || []).forEach(l => {
      ctx.fillStyle = l.color; ctx.font = l.size + "px " + FONT;
      ctx.textAlign = "center"; ctx.textBaseline = "middle";
      ctx.fillText(l.text, x.getPixelForValue(l.x), y.getPixelForValue(l.y) + (l.dy || 0));
    });
    ctx.restore();
  }
};

function makeChart(id, area, xr, yr, xt, yt, yEvery, datasets, notes) {
  const cv = document.getElementById(id);
  const w = area[2] - area[0] + M.l + M.r, h = area[3] - area[1] + M.t + M.b;
  cv.width = w; cv.height = h;
  cv.style.width = w + "px"; cv.style.height = h + "px";
  cv.style.left = (area[0] - M.l) + "px"; cv.style.top = (area[1] - M.t) + "px";
  return new Chart(cv, {
    type: "scatter",
    data: { datasets },
    options: {
      responsive: false, animation: false, devicePixelRatio: 1,
      layout: { padding: { left: M.l - YW, right: M.r, top: M.t, bottom: M.b - XH } },
      plugins: { legend: { display: false }, tooltip: { enabled: false }, notes },
      scales: { x: axis(xr[0], xr[1], xt, false, 0), y: axis(yr[0], yr[1], yt, true, yEvery) }
    },
    plugins: [notesPlugin]
  });
}

function geneLabels(names, xs, ys) {
  return names.map((n, i) => ({ text: n, x: xs[i], y: ys[i], dy: 8.5, color: "#0000ff", size: 13 }));
}
function genePts(xs, ys) { return xs.map((v, i) => [v, ys[i]]); }

function scatterSets(core, halo, black, red) {
  return [shape(halo, FRINGE, 6, 0), shape(core, "#000", 5, 1.5),
          dots(black, "#000", 1.0, 3), dots(red, "#ff0000", 1.3, 1)];
}

function volcanoSets(core, halo, list, gx, gy, xr, yr) {
  const sets = [shape(halo, FRINGE, 6, 0), shape(core, "#000", 5, 1.5),
                dots(list.concat(genePts(gx, gy)), "#000", 1.6, 2)];
  fcCuts.forEach(v => sets.push(rule([[v, yr[0]], [v, yr[1]]], "#000", [1, 3])));
  sets.push(rule([[xr[0], 0], [xr[1], 0]], "#000", [1, 3]));
  sets.push(rule([[xr[0], fdrCut], [xr[1], fdrCut]], "#ff0000", [7, 3, 2, 3]));
  return sets;
}

const scX = [-5.04, 16.89], scY = [-5.07, 17.0];

makeChart("sa", [96, 86, 459, 343], scX, scY, scTicks, scTicks, 0,
  scatterSets(aCore, aHalo, aBlack, aRed),
  { arrows: [{ from: [-2.5, 11.48], to: [-2.5, 6.62], color: "#000", head: 19, hw: 4, lw: 1.3 }],
    labels: [{ text: "Igf2", x: -2.5, y: 12.3, color: "#222", size: 12.5 }] });

makeChart("sb", [96, 543, 459, 801], scX, scY, scTicks, scTicks, 0,
  scatterSets(bCore, bHalo, bBlack, bRed),
  { arrows: [{ from: [-2.5, 11.48], to: [-2.5, -2.83], color: "#000", head: 19, hw: 4, lw: 1.3 }],
    labels: [{ text: "Igf2", x: -2.5, y: 12.4, color: "#222", size: 12.5 }] });

makeChart("sc", [96, 1003, 459, 1261], scX, scY, scTicks, scTicks, 0,
  scatterSets(cCore, cHalo, cBlack, cRed),
  { arrows: [{ from: [11.0, 2.52], to: [5.86, 1.15], color: "#000", head: 18, hw: 5, lw: 1.3 }],
    labels: [{ text: "Igf2", x: 11.95, y: 2.86, color: "#222", size: 12.5 }] });

const vaX = [-12.07, 11.22], vaY = [-2.35, 64.7];
makeChart("va", [582, 86, 946, 343], vaX, vaY, vxTicks, vaYTicks, 20,
  volcanoSets(vaCore, vaHalo, vaPts, vaGeneX, vaGeneY, vaX, vaY),
  { labels: geneLabels(vaGenes, vaGeneX, vaGeneY) });

const vbX = [-11.22, 10.16], vbY = [-1.73, 44.34];
makeChart("vb", [582, 543, 946, 801], vbX, vbY, vxTicks, vbYTicks, 0,
  volcanoSets(vbCore, vbHalo, vbPts, vbGeneX, vbGeneY, vbX, vbY),
  { arrows: [{ from: [5.04, 20.0], to: [-1.64, -0.25], color: "#ff0000", head: 16, hw: 6, lw: 1.3 }],
    labels: geneLabels(vbGenes, vbGeneX, vbGeneY).concat([{ text: "Igf2", x: 5.03, y: 21.7, color: "#0000ff", size: 13 }]) });

const vcX = [-11.37, 10.59], vcY = [-1.5, 38.28];
makeChart("vc", [582, 1003, 946, 1261], vcX, vcY, vxTicks, vcYTicks, 0,
  volcanoSets(vcCore, vcHalo, vcPts, vcGeneX, vcGeneY, vcX, vcY),
  { labels: geneLabels(vcGenes, vcGeneX, vcGeneY) });
</script>
</body>
</html>
